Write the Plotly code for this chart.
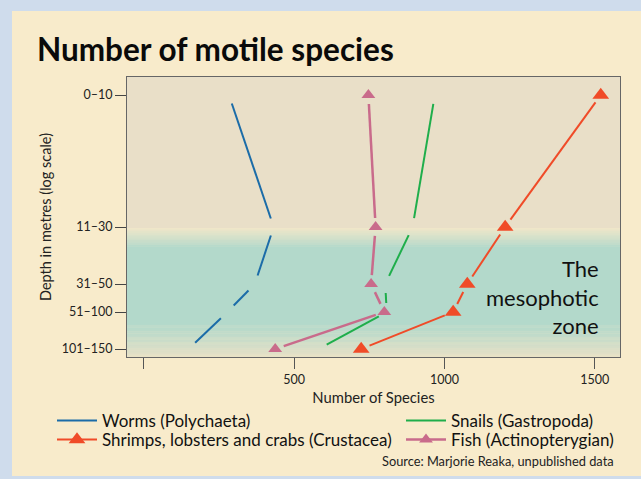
import math
import plotly.graph_objects as go

# ---- data -------------------------------------------------------------
depth_labels = ["0\u201310", "11\u201330", "31\u201350", "51\u2013100", "101\u2013150"]
# vertical position of each depth class on the (compressed log) depth axis
depth_pos = [0, 132, 189, 217, 254]

worms = [283, 432, 369, 278, 149]
snails = [968, 894, 803, 808, 582]
crustacea = [1520, 1202, 1076, 1029, 723]
fish = [747, 771, 756, 800, 437]

x_ticks = [0, 500, 1000, 1500]
x_ticktext = ["", "500", "1000", "1500"]

# ---- geometry / style ------------------------------------------------
W, H = 641, 479
ML, MR, MT, MB = 127, 21, 77, 122
PW, PH = W - ML - MR, H - MT - MB
X_RANGE = [-56, 1584]
Y_RANGE = [262, -18]          # reversed: shallow at the top

FONT = "Lato"
C_WORM = "#1b6ca8"
C_SNAIL = "#1fae4b"
C_CRUST = "#f04b28"
C_FISH = "#c96b8b"
PANEL = "#f8ebcb"
OUTER = "#cfdcec"
TOP_BG = "#e9dfc8"
TEAL = "#b3d9cb"


def px_x(p):
    return (p - ML) / PW


def px_y(p):
    return 1 - (p - MT) / PH


def gapped(xs, ys, gap=9.0):
    """Split a polyline into segments that stop short of each vertex."""
    sx = PW / (X_RANGE[1] - X_RANGE[0])
    sy = PH / (Y_RANGE[0] - Y_RANGE[1])
    gx, gy = [], []
    for i in range(len(xs) - 1):
        dx, dy = xs[i + 1] - xs[i], ys[i + 1] - ys[i]
        length = math.hypot(dx * sx, dy * sy)
        f = gap / length
        gx += [xs[i] + dx * f, xs[i + 1] - dx * f, None]
        gy += [ys[i] + dy * f, ys[i + 1] - dy * f, None]
    return gx, gy


def mix(c1, c2, t):
    a = [int(c1[i:i + 2], 16) for i in (1, 3, 5)]
    b = [int(c2[i:i + 2], 16) for i in (1, 3, 5)]
    return "rgb(%d,%d,%d)" % tuple(round(a[k] + (b[k] - a[k]) * t) for k in range(3))


fig = go.Figure()

# name, values, colour, marker symbol, marker size, line width, legend id
series = [
    ("Worms (Polychaeta)", worms, C_WORM, None, 0, 2, "legend"),
    ("Snails (Gastropoda)", snails, C_SNAIL, None, 0, 2, "legend2"),
    ("Shrimps, lobsters and crabs (Crustacea)", crustacea, C_CRUST, "triangle-up", 14.5, 2, "legend3"),
    ("Fish (Actinopterygian)", fish, C_FISH, "triangle-up", 12, 2.5, "legend4"),
]

# broken connecting lines (stop short of every depth point)
for name, vals, color, sym, size, lw, leg in series:
    gx, gy = gapped(vals, depth_pos)
    fig.add_trace(go.Scatter(
        x=gx, y=gy, mode="lines", line=dict(color=color, width=lw),
        showlegend=False, hoverinfo="skip"))

# markers + legend entries
for name, vals, color, sym, size, lw, leg in series:
    if sym:
        fig.add_trace(go.Scatter(
            x=vals, y=depth_pos, mode="markers", name=name, showlegend=False,
            marker=dict(symbol=sym, size=size, color=color)))
        # legend sample with a line through the marker
        fig.add_trace(go.Scatter(
            x=[None], y=[None], mode="lines+markers", name=name, legend=leg,
            line=dict(color=color, width=lw),
            marker=dict(symbol=sym, size=size, color=color)))
    else:
        fig.add_trace(go.Scatter(
            x=[None], y=[None], mode="lines", name=name, legend=leg,
            line=dict(color=color, width=lw)))

# ---- background bands -------------------------------------------------
shapes = []
# beige panel on the blue surround
shapes.append(dict(type="rect", xref="paper", yref="paper",
                   x0=px_x(12), x1=px_x(W + 5), y0=px_y(476), y1=px_y(11),
                   fillcolor=PANEL, line=dict(width=0), layer="below"))
# upper (shallow) zone
shapes.append(dict(type="rect", xref="x domain", yref="y",
                   x0=0, x1=1, y0=Y_RANGE[1], y1=133,
                   fillcolor=TOP_BG, line=dict(width=0), layer="below"))
# mesophotic band with soft edges
band_top, fade_top, fade_bot, band_bot = 133, 152, 228, Y_RANGE[0]
steps = 40
for k in range(steps):
    a = band_top + (fade_top - band_top) * k / steps
    b = band_top + (fade_top - band_top) * (k + 1) / steps
    shapes.append(dict(type="rect", xref="x domain", yref="y", x0=0, x1=1,
                       y0=a, y1=b + 0.3, fillcolor=mix("#efe6c9", TEAL, (k + 0.5) / steps),
                       line=dict(width=0), layer="below"))
shapes.append(dict(type="rect", xref="x domain", yref="y", x0=0, x1=1,
                   y0=fade_top, y1=fade_bot + 0.3, fillcolor=TEAL,
                   line=dict(width=0), layer="below"))
for k in range(steps):
    a = fade_bot + (band_bot - fade_bot) * k / steps
    b = fade_bot + (band_bot - fade_bot) * (k + 1) / steps
    shapes.append(dict(type="rect", xref="x domain", yref="y", x0=0, x1=1,
                       y0=a, y1=b + 0.3, fillcolor=mix(TEAL, "#e8e0c6", ((k + 0.5) / steps) ** 1.3),
                       line=dict(width=0), layer="below"))

annotations = [
    dict(text="The<br>mesophotic<br>zone", xref="paper", yref="paper",
         x=px_x(601), y=px_y(297), xanchor="right", yanchor="middle",
         align="right", showarrow=False,
         font=dict(family=FONT, size=22, color="#111")),
    dict(text="Source: Marjorie Reaka, unpublished data", xref="paper", yref="paper",
         x=px_x(616), y=px_y(461), xanchor="right", yanchor="middle",
         showarrow=False, font=dict(family=FONT, size=12.8, color="#222")),
]

legend_common = dict(orientation="v", yanchor="middle", xanchor="left",
                     bgcolor="rgba(0,0,0,0)", itemwidth=40,
                     font=dict(family=FONT, size=17, color="#111"))

fig.update_layout(
    width=W, height=H,
    margin=dict(l=ML, r=MR, t=MT, b=MB),
    paper_bgcolor=OUTER, plot_bgcolor="rgba(0,0,0,0)",
    font=dict(family=FONT, color="#222"),
    title=dict(text="<b>Number of motile species</b>",
               x=37 / W, xanchor="left", xref="container",
               y=1 - 50 / H, yanchor="middle", yref="container",
               font=dict(family=FONT, size=31.5, color="#0a0a0a")),
    shapes=shapes, annotations=annotations,
    showlegend=True,
    legend=dict(x=px_x(52), y=px_y(421), **legend_common),
    legend2=dict(x=px_x(401), y=px_y(421), **legend_common),
    legend3=dict(x=px_x(52), y=px_y(440), **legend_common),
    legend4=dict(x=px_x(401), y=px_y(440), **legend_common),
)

fig.update_xaxes(range=X_RANGE, tickvals=x_ticks, ticktext=x_ticktext,
                 ticks="outside", ticklen=11, tickcolor="#555", tickwidth=1.2,
                 showline=True, linecolor="#666", linewidth=1, mirror=True,
                 showgrid=False, zeroline=False,
                 tickfont=dict(family=FONT, size=12.5, color="#222"),
                 title=dict(text="Number of Species", standoff=6,
                            font=dict(family=FONT, size=14.8, color="#222")))
fig.update_yaxes(range=Y_RANGE, tickvals=depth_pos, ticktext=depth_labels,
                 ticks="outside", ticklen=11, tickcolor="#444", tickwidth=1.2,
                 showline=True, linecolor="#666", linewidth=1, mirror=True,
                 showgrid=False, zeroline=False,
                 tickfont=dict(family=FONT, size=12.5, color="#222"),
                 title=dict(text="Depth in metres (log scale)", standoff=6,
                            font=dict(family=FONT, size=14.5, color="#222")))

fig.write_html("out.html")
